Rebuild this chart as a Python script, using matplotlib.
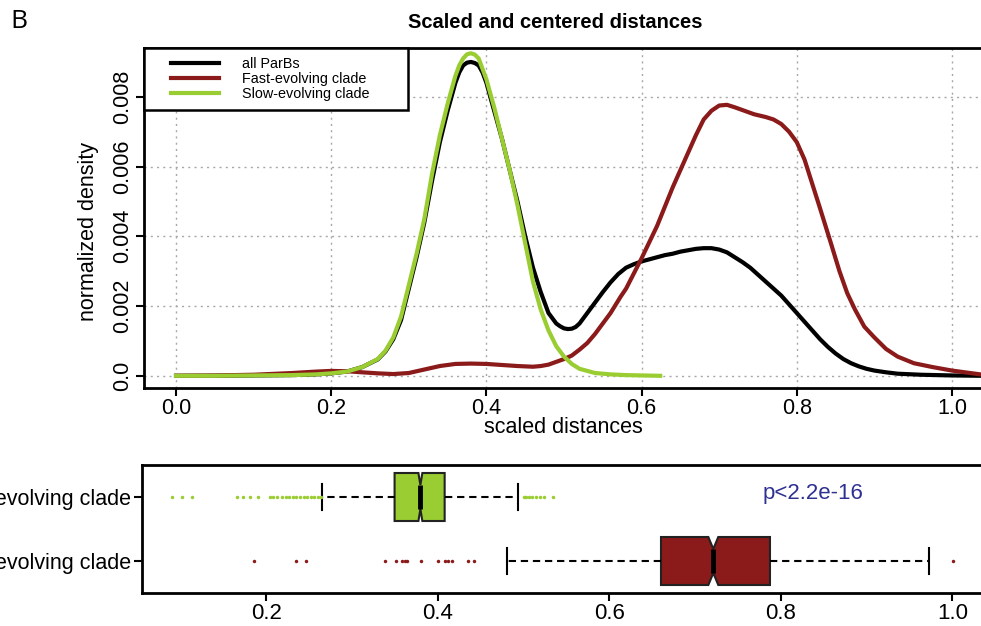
import matplotlib
matplotlib.use("Agg")
import matplotlib.pyplot as plt
from matplotlib.lines import Line2D
from matplotlib.legend_handler import HandlerLine2D

# density curves (scaled distance, normalized density)
all_x = [0.0, 0.05, 0.10, 0.15, 0.18, 0.20, 0.22, 0.24, 0.26, 0.27, 0.28, 0.29, 0.30,
         0.31, 0.32, 0.33, 0.34, 0.35, 0.36, 0.365, 0.37, 0.375, 0.38, 0.385, 0.39, 0.395,
         0.40, 0.41, 0.42, 0.43, 0.44, 0.45, 0.46, 0.47, 0.48, 0.49, 0.495, 0.50, 0.505,
         0.51, 0.515, 0.52, 0.53, 0.54, 0.55, 0.56, 0.57, 0.58, 0.59, 0.60, 0.61, 0.62,
         0.63, 0.64, 0.65, 0.66, 0.67, 0.68, 0.69, 0.70, 0.71, 0.72, 0.73, 0.74, 0.75,
         0.76, 0.77, 0.78, 0.79, 0.80, 0.81, 0.82, 0.83, 0.84, 0.85, 0.86, 0.87, 0.88,
         0.89, 0.90, 0.915, 0.93, 0.96, 1.00, 1.04]
all_y = [0.0, 0.0, 0.00001, 0.00002, 0.00004, 0.00007, 0.00012, 0.00025, 0.00047, 0.0007,
         0.00105, 0.0016, 0.0025, 0.0034, 0.0044, 0.0056, 0.0067, 0.0076, 0.0084, 0.0087,
         0.0089, 0.00898, 0.0090, 0.00897, 0.0089, 0.0087, 0.0084, 0.0076, 0.0068, 0.0059,
         0.0050, 0.0040, 0.0031, 0.0024, 0.0018, 0.0015, 0.00142, 0.00136, 0.00134,
         0.00135, 0.0014, 0.0015, 0.0018, 0.0021, 0.0024, 0.00268, 0.00292, 0.0031, 0.0032,
         0.00328, 0.00334, 0.0034, 0.00346, 0.0035, 0.00356, 0.0036, 0.00364, 0.00366,
         0.00366, 0.00362, 0.00354, 0.0034, 0.00326, 0.0031, 0.0029, 0.0027, 0.0025, 0.0023,
         0.00205, 0.0018, 0.00155, 0.0013, 0.00105, 0.00083, 0.00064, 0.00048, 0.00036,
         0.00027, 0.0002, 0.00015, 0.0001, 0.00006, 0.00003, 0.00001, 0.0]

fast_x = [0.0, 0.05, 0.10, 0.15, 0.18, 0.20, 0.22, 0.24, 0.26, 0.28, 0.30, 0.32, 0.34,
          0.36, 0.38, 0.40, 0.42, 0.44, 0.46, 0.47, 0.48, 0.49, 0.50, 0.51, 0.52, 0.53,
          0.54, 0.55, 0.56, 0.573, 0.58, 0.60, 0.62, 0.64, 0.66, 0.67, 0.68, 0.69, 0.70,
          0.71, 0.72, 0.73, 0.745, 0.76, 0.77, 0.78, 0.79, 0.80, 0.81, 0.82, 0.83, 0.844,
          0.855, 0.865, 0.875, 0.887, 0.90, 0.915, 0.93, 0.951, 0.975, 1.00, 1.04]
fast_y = [0.0, 0.00001, 0.00003, 0.00008, 0.00012, 0.00014, 0.00013, 0.0001, 0.00007,
          0.00005, 0.00008, 0.00018, 0.00028, 0.00034, 0.00035, 0.00034, 0.00031, 0.00028,
          0.00026, 0.00028, 0.00032, 0.0004, 0.00048, 0.00058, 0.00075, 0.00094, 0.0012,
          0.0015, 0.0018, 0.00227, 0.0025, 0.00337, 0.0043, 0.0054, 0.0064, 0.0069, 0.00735,
          0.0076, 0.00775, 0.00777, 0.0077, 0.00762, 0.0075, 0.00742, 0.00735, 0.00722,
          0.0070, 0.0067, 0.0062, 0.0055, 0.0048, 0.0038, 0.0030, 0.00237, 0.0019, 0.00141,
          0.0011, 0.00077, 0.00055, 0.00036, 0.00025, 0.00015, 0.00003]

slow_x = [0.0, 0.05, 0.10, 0.15, 0.18, 0.20, 0.22, 0.24, 0.26, 0.27, 0.28, 0.29, 0.30,
          0.31, 0.32, 0.33, 0.34, 0.35, 0.36, 0.365, 0.37, 0.375, 0.38, 0.385, 0.39, 0.395,
          0.40, 0.41, 0.42, 0.43, 0.44, 0.45, 0.46, 0.47, 0.48, 0.49, 0.50, 0.51, 0.52,
          0.54, 0.56, 0.58, 0.60, 0.624]
slow_y = [0.0, 0.0, 0.00001, 0.00002, 0.00004, 0.00007, 0.00012, 0.00025, 0.00048, 0.00072,
          0.0011, 0.0017, 0.0026, 0.0035, 0.0045, 0.0058, 0.0069, 0.0078, 0.0086, 0.0089,
          0.0091, 0.00922, 0.00925, 0.00921, 0.0091, 0.0088, 0.0085, 0.0077, 0.0068, 0.0059,
          0.0049, 0.0038, 0.0027, 0.0019, 0.0013, 0.00085, 0.00055, 0.00034, 0.0002,
          0.00008, 0.00004, 0.00002, 0.00001, 0.0]

# boxplot summaries (scaled distances)
groups = ["Fast-evolving clade", "Slow-evolving clade"]
box_med = [0.7213, 0.3797]
box_q1 = [0.6603, 0.3496]
box_q3 = [0.7874, 0.4080]
box_whislo = [0.4808, 0.2650]
box_whishi = [0.9732, 0.4940]
box_cilo = [0.7155, 0.3774]
box_cihi = [0.7271, 0.3820]
fast_outliers = [0.186, 0.2343, 0.2464, 0.3384, 0.3509, 0.358, 0.3622, 0.3642, 0.380,
                 0.3997, 0.4079, 0.4121, 0.4163, 0.4351, 0.4426, 1.0005]
slow_outliers = [0.0902, 0.1018, 0.1131, 0.1664, 0.1727, 0.181, 0.1903, 0.204, 0.2081,
                 0.2123, 0.2185, 0.2227, 0.2269, 0.2311, 0.2352, 0.2394, 0.2436, 0.2477,
                 0.2519, 0.2560, 0.2602, 0.2643, 0.500, 0.503, 0.506, 0.510, 0.515, 0.519,
                 0.524, 0.534]
p_label = "p<2.2e-16"

BLACK = "black"
RED = "#8B1A1A"
GREEN = "#9ACD32"
plain = ["Liberation Sans"]

fig = plt.figure(figsize=(9.81, 6.26), dpi=100)

# ---- top panel: densities
ax = fig.add_axes([144 / 981, 1 - 388 / 626, 838 / 981, 340 / 626])
ax.plot(all_x, all_y, color=BLACK, lw=3, label="all ParBs", zorder=3)
ax.plot(fast_x, fast_y, color=RED, lw=3, label="Fast-evolving clade", zorder=4)
ax.plot(slow_x, slow_y, color=GREEN, lw=3, label="Slow-evolving clade", zorder=5)

ax.set_xlim(-0.0413, 1.0387)
ax.set_ylim(-0.00035, 0.0094)
ax.set_xticks([0.0, 0.2, 0.4, 0.6, 0.8, 1.0])
ax.set_xticklabels(["0.0", "0.2", "0.4", "0.6", "0.8", "1.0"], family=plain, fontsize=15.5)
ax.set_yticks([0.0, 0.002, 0.004, 0.006, 0.008])
ax.set_yticklabels(["0.0", "0.002", "0.004", "0.006", "0.008"], family=plain,
                   fontsize=15.5, rotation=90, va="center")
ax.tick_params(direction="out", length=6, width=1.5, pad=1.5)
ax.grid(True, color="#A8A8A8", linestyle=(0, (1.5, 3)), lw=1)
ax.set_axisbelow(True)
for s in ["left", "bottom", "top"]:
    ax.spines[s].set_linewidth(2)
ax.spines["right"].set_visible(False)

ax.set_xlabel("scaled distances", family=plain, fontsize=15.5)
ax.xaxis.set_label_coords(0.5, -0.085)
ax.set_ylabel("normalized density", family=plain, fontsize=15.5)
ax.yaxis.set_label_coords(-0.054, 0.46)

leg = ax.legend(loc="upper left", bbox_to_anchor=(0, 0.8265, 0.315, 0.1735), mode="expand",
                borderaxespad=0, fancybox=False, framealpha=1, edgecolor="black",
                prop={"family": plain, "size": 10.4}, handlelength=4.6, handletextpad=1.6,
                labelspacing=0.08, borderpad=0.6,
                handler_map={Line2D: HandlerLine2D(xpad=1.25)})
leg.get_frame().set_linewidth(1.8)
leg.set_zorder(10)

fig.text(555 / 981, 1 - 22 / 626, "Scaled and centered distances", ha="center", va="center",
         fontsize=14.5, fontweight="bold", family=plain)
fig.text(10 / 981, 1 - 22 / 626, "B", ha="left", va="center", fontsize=19, family=["Open Sans"])

# ---- bottom panel: notched boxplots
bx = fig.add_axes([141.8 / 981, 33 / 626, (981 - 141.8) / 981, 128 / 626])
stats = []
for i in range(len(groups)):
    stats.append(dict(med=box_med[i], q1=box_q1[i], q3=box_q3[i], whislo=box_whislo[i],
                      whishi=box_whishi[i], cilo=box_cilo[i], cihi=box_cihi[i],
                      fliers=[fast_outliers, slow_outliers][i], label=groups[i]))
bp = bx.bxp(stats, positions=[1, 2], widths=0.75, capwidths=0.4, orientation="horizontal",
            shownotches=True, patch_artist=True, manage_ticks=False,
            boxprops=dict(edgecolor="#222222", linewidth=1.5),
            whiskerprops=dict(color="black", linewidth=1.5, linestyle=(0, (3.5, 2.3))),
            capprops=dict(color="black", linewidth=1.5),
            medianprops=dict(color="black", linewidth=3.5, solid_capstyle="butt"),
            flierprops=dict(marker="o", markersize=2.5, markeredgewidth=0))
for patch, col in zip(bp["boxes"], [RED, GREEN]):
    patch.set_facecolor(col)
for fl, col in zip(bp["fliers"], [RED, GREEN]):
    fl.set_markerfacecolor(col)

bx.text(0.837, 2.06, p_label, color="#2E3192", fontsize=16, ha="center", va="center",
        family=plain)
bx.set_xlim(0.0548, 1.0335)
bx.set_ylim(0.5, 2.5)
bx.set_yticks([1, 2])
bx.set_yticklabels(groups, family=plain, fontsize=15.5)
bx.set_xticks([0.2, 0.4, 0.6, 0.8, 1.0])
bx.set_xticklabels(["0.2", "0.4", "0.6", "0.8", "1.0"], family=plain, fontsize=16)
bx.tick_params(direction="out", length=6, width=1.5, pad=1.5)
for s in ["left", "bottom", "top"]:
    bx.spines[s].set_linewidth(2)
bx.spines["right"].set_visible(False)

fig.savefig("out.png", dpi=100)
